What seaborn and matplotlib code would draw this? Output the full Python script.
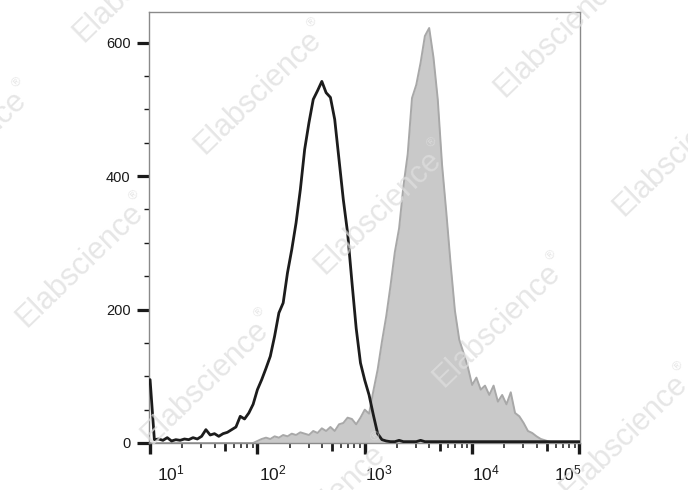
import numpy as np
import pandas as pd
import matplotlib
matplotlib.use("Agg")
import matplotlib.pyplot as plt
import matplotlib.transforms as mtransforms
from matplotlib.ticker import FixedLocator, LogLocator, MultipleLocator, NullLocator
from matplotlib.textpath import TextPath
from matplotlib.font_manager import FontProperties
import seaborn as sns

# ---------------- data ----------------
# histogram channels: log10 of fluorescence, first channel and channel width
log_channel_start = 1.0
log_channel_step = 0.04

# isotype control (black outline), counts per channel
isotype_counts = [
    95, 5, 6, 4, 8, 3, 5, 4, 6, 5,
    8, 6, 10, 20, 12, 14, 10, 14, 16, 20,
    24, 40, 36, 45, 58, 80, 95, 112, 130, 160,
    195, 210, 255, 290, 330, 380, 440, 480, 515, 528,
    542, 525, 518, 485, 425, 365, 315, 242, 172, 120,
    94, 72, 42, 14, 5, 3, 2, 2, 4, 2,
    2, 2, 2, 4, 2, 2, 2, 2, 2, 2,
    2, 2, 2, 2, 2, 2, 2, 2, 2, 2,
    2, 2, 2, 2, 2, 2, 2, 2, 2, 2,
    2, 2, 2, 2, 2, 2, 2, 2, 2, 2,
    2,
]

# stained sample (grey filled), counts per channel
stained_counts = [
    0, 0, 0, 0, 0, 0, 0, 0, 0, 0,
    0, 0, 0, 0, 0, 0, 0, 0, 0, 0,
    0, 0, 0, 0, 0, 3, 6, 8, 6, 10,
    8, 12, 10, 14, 12, 16, 14, 12, 18, 15,
    22, 18, 24, 18, 28, 30, 38, 36, 28, 38,
    50, 44, 78, 110, 152, 190, 236, 286, 322, 385,
    433, 517, 537, 570, 610, 622, 578, 515, 417, 345,
    268, 198, 155, 135, 114, 87, 98, 80, 86, 72,
    86, 62, 72, 58, 76, 45, 40, 30, 18, 15,
    10, 6, 4, 2, 0, 0, 0, 0, 0, 0,
    0,
]

x_tick_values = [1e1, 1e2, 1e3, 1e4, 1e5]
x_tick_labels = [r"$10^{1}$", r"$10^{2}$", r"$10^{3}$", r"$10^{4}$", r"$10^{5}$"]
x_mid_tick_values = [5e1, 5e2, 5e3, 5e4]
y_tick_values = [0, 200, 400, 600]
y_tick_labels = ["0", "200", "400", "600"]
watermark_text = "Elabscience"
watermark_mark = "\u00ae"

# ---------------- style ----------------
sns.set_theme(style="white")
plt.rcParams["font.family"] = ["Liberation Sans", "DejaVu Sans"]
plt.rcParams["mathtext.fontset"] = "custom"
plt.rcParams["mathtext.rm"] = "Liberation Sans"
plt.rcParams["mathtext.it"] = "Liberation Sans:italic"
plt.rcParams["mathtext.bf"] = "Liberation Sans:bold"
plt.rcParams["mathtext.default"] = "regular"

n = len(isotype_counts)
channels = 10 ** (log_channel_start + log_channel_step * np.arange(n))
df = pd.DataFrame({"fluorescence": channels,
                   "isotype": isotype_counts,
                   "stained": stained_counts})

W, H = 688, 490
fig = plt.figure(figsize=(W / 100, H / 100), dpi=100)
fig.patch.set_facecolor("white")
ax = fig.add_axes([149 / W, 1 - 443 / H, 431 / W, 431 / H])
ax.set_facecolor("white")
ax.set_xscale("log")

ax.fill_between(df["fluorescence"], df["stained"], 0, color="#c9c9c9", lw=0, zorder=1)
sns.lineplot(data=df, x="fluorescence", y="stained", color="#a8a8a8", lw=1.4,
             ax=ax, zorder=2, legend=False)
sns.lineplot(data=df, x="fluorescence", y="isotype", color="#1c1c1c", lw=2.0,
             ax=ax, zorder=3, legend=False)

ax.set_xlim(10 ** 0.99, 10 ** 5.005)
ax.set_ylim(0, 646)
ax.set_xlabel("")
ax.set_ylabel("")

for s in ax.spines.values():
    s.set_visible(True)
    s.set_color("#8a8a8a")
    s.set_linewidth(1.0)

# y ticks
ax.yaxis.set_major_locator(FixedLocator(y_tick_values))
ax.set_yticklabels(y_tick_labels)
ax.yaxis.set_minor_locator(MultipleLocator(50))
ax.tick_params(axis="y", which="major", left=True, length=8.4, width=2.3,
               color="#1a1a1a", pad=5, labelsize=10.5, labelcolor="#1a1a1a")
ax.tick_params(axis="y", which="minor", left=True, length=3.6, width=1.0,
               color="#1a1a1a")

# x ticks
ax.xaxis.set_major_locator(FixedLocator(x_tick_values))
ax.set_xticklabels(x_tick_labels)
ax.xaxis.set_minor_locator(LogLocator(base=10, subs=[2, 3, 4, 6, 7, 8, 9], numticks=30))
ax.tick_params(axis="x", which="major", bottom=True, length=8.0, width=2.4,
               color="#1a1a1a", pad=7, labelsize=12.5, labelcolor="#1a1a1a")
ax.tick_params(axis="x", which="minor", bottom=True, length=3.6, width=1.1,
               color="#1a1a1a")

offsets_px = [7, 1.5, 0.5, 0, 2]
aligns = ["left", "left", "left", "left", "right"]
for lbl, dx, ha in zip(ax.get_xticklabels(), offsets_px, aligns):
    lbl.set_horizontalalignment(ha)
    lbl.set_transform(lbl.get_transform() +
                      mtransforms.ScaledTranslation(dx / 100, 0, fig.dpi_scale_trans))

sec = ax.secondary_xaxis("bottom")
sec.set_xticks(x_mid_tick_values)
sec.xaxis.set_minor_locator(NullLocator())
sec.tick_params(axis="x", which="major", bottom=True, length=6.0, width=2.0,
                color="#1a1a1a", labelbottom=False)
sec.spines["bottom"].set_visible(False)

# watermark
wm_size = 22
wm_angle = 44
wm_color = "#dedede"
wm_alpha = 0.75
wm_centers = [(137, -20), (-37, 152), (258, 92), (558, 35), (677, 154), (80, 265),
              (378, 212), (497, 325), (205, 382), (624, 436), (322, 506)]
fp = FontProperties(family="Liberation Sans", size=wm_size)
tw = TextPath((0, 0), watermark_text, prop=fp).get_extents().width
ang = np.deg2rad(wm_angle)
ux, uy = np.cos(ang), np.sin(ang)
px_, py_ = -np.sin(ang), np.cos(ang)
for cx, cy in wm_centers:
    fx, fy = cx / W, 1 - cy / H
    fig.text(fx, fy, watermark_text, rotation=wm_angle, rotation_mode="anchor",
             ha="center", va="center", fontsize=wm_size, color=wm_color,
             alpha=wm_alpha, zorder=10)
    da, dp = tw / 2 + 5, 9
    tr = mtransforms.offset_copy(fig.transFigure, fig=fig,
                                 x=ux * da + px_ * dp, y=uy * da + py_ * dp, units="points")
    fig.text(fx, fy, watermark_mark, transform=tr, rotation=wm_angle,
             rotation_mode="anchor", ha="center", va="center",
             fontsize=wm_size * 0.42, color=wm_color, alpha=wm_alpha, zorder=10)

fig.savefig("out.png", dpi=100, facecolor="white")
